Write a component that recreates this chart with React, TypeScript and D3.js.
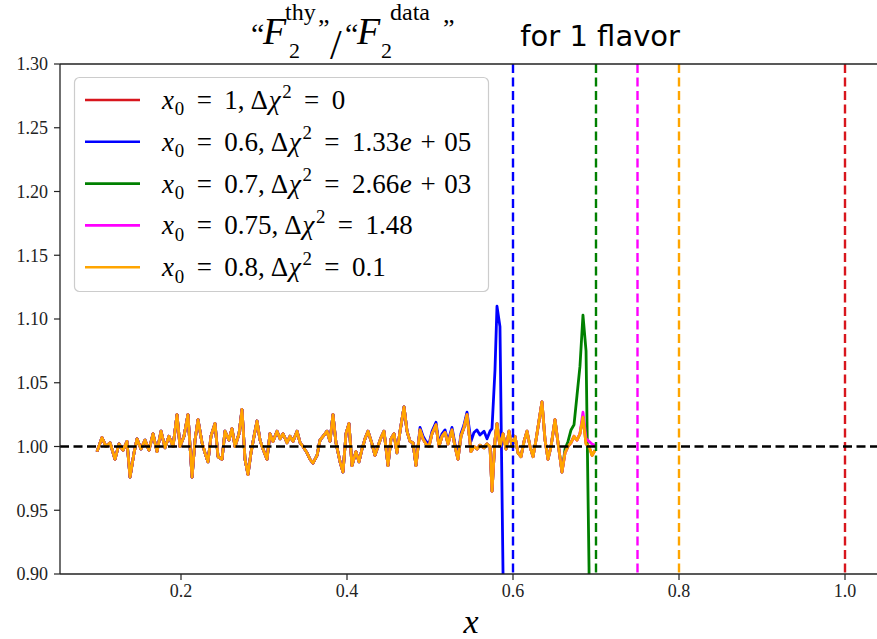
import React from "react";
import * as d3 from "d3";

const W = 877;
const H = 639;

// sampled x positions of the ratio curves
const xs = [
  0.0988, 0.1048, 0.1096, 0.1145, 0.1205, 0.1253, 0.1301, 0.1349, 0.1386, 0.1434,
  0.1470, 0.1518, 0.1566, 0.1614, 0.1663, 0.1711, 0.1759, 0.1807, 0.1855, 0.1904,
  0.1952, 0.1988, 0.2036, 0.2084, 0.2133, 0.2169, 0.2205, 0.2253, 0.2289, 0.2325,
  0.2361, 0.2410, 0.2446, 0.2494, 0.2530, 0.2578, 0.2614, 0.2651, 0.2699, 0.2735,
  0.2771, 0.2807, 0.2843, 0.2880, 0.2916, 0.2952, 0.2988, 0.3036, 0.3072, 0.3108,
  0.3157, 0.3193, 0.3229, 0.3277, 0.3313, 0.3349, 0.3398, 0.3434, 0.3470, 0.3518,
  0.3554, 0.3590, 0.3639, 0.3675, 0.3711, 0.3759, 0.3795, 0.3831, 0.3867, 0.3916,
  0.3952, 0.3988, 0.4024, 0.4060, 0.4108, 0.4145, 0.4181, 0.4217, 0.4253, 0.4301,
  0.4337, 0.4373, 0.4410, 0.4446, 0.4494, 0.4530, 0.4566, 0.4602, 0.4639, 0.4687,
  0.4723, 0.4759, 0.4795, 0.4831, 0.4880, 0.4916, 0.4952, 0.4988, 0.5024, 0.5072,
  0.5108, 0.5145, 0.5181, 0.5217, 0.5265, 0.5301, 0.5337, 0.5373, 0.5410, 0.5446,
  0.5494, 0.5530, 0.5566, 0.5602, 0.5651, 0.5687, 0.5723, 0.5747, 0.5783, 0.5807,
  0.5843, 0.5880, 0.5916, 0.5952, 0.5988, 0.6024, 0.6060, 0.6096, 0.6133, 0.6169,
  0.6205, 0.6241, 0.6277, 0.6313, 0.6349, 0.6386, 0.6422, 0.6458, 0.6506, 0.6542,
  0.6590, 0.6627, 0.6663, 0.6699, 0.6735, 0.6771, 0.6807, 0.6843, 0.6880, 0.6916,
  0.6952, 0.6988,
];

// common ratio values (x0 = 1 and x0 = 0.8 curves)
const baseY = [
  0.996, 1.007, 1.000, 1.003, 0.990, 1.002, 0.997, 1.004, 0.976, 0.995,
  1.006, 0.998, 1.005, 0.997, 1.010, 0.996, 1.012, 0.999, 1.008, 1.000,
  1.025, 1.000, 1.008, 1.025, 0.976, 1.005, 1.021, 1.003, 0.995, 0.988,
  1.008, 1.018, 0.992, 0.990, 1.012, 1.005, 1.014, 1.000, 1.010, 1.029,
  0.990, 0.978, 0.995, 1.008, 1.020, 1.005, 0.998, 0.990, 1.010, 1.004,
  1.012, 1.006, 1.010, 1.003, 1.008, 1.004, 1.012, 1.003, 1.000, 0.995,
  0.990, 0.987, 0.993, 1.005, 1.008, 1.012, 1.004, 1.025, 1.003, 0.988,
  0.980, 1.010, 1.018, 0.985, 0.996, 0.988, 0.998, 1.006, 1.012, 1.002,
  0.993, 1.000, 1.007, 1.012, 0.985, 1.006, 1.010, 0.995, 1.012, 1.031,
  1.012, 1.004, 1.003, 0.985, 1.013, 1.006, 1.002, 1.000, 1.010, 1.017,
  1.000, 1.008, 1.011, 1.002, 1.013, 1.000, 0.990, 1.008, 1.015, 1.025,
  0.996, 1.000, 0.998, 1.001, 0.999, 1.002, 1.000, 0.965, 1.005, 1.018,
  1.000, 1.010, 0.998, 1.012, 1.000, 1.008, 0.995, 0.992, 1.004, 1.012,
  1.000, 0.992, 1.005, 1.020, 1.035, 1.005, 0.990, 1.000, 1.021, 1.003,
  0.980, 0.995, 1.000, 1.003, 1.008, 1.005, 1.010, 1.023, 1.002, 1.000,
  0.993, 0.997,
];

// x0 = 0.6 curve, departing from the common values at x = 0.488
const blueFrom = 0.488;
const blueTail = [
  1.015, 1.008, 1.004, 1.002, 1.012, 1.019, 1.002, 1.010, 1.013, 1.004,
  1.015, 1.002, 0.992, 1.010, 1.017, 1.027, 1.004, 1.011, 1.013, 1.009,
  1.012, 1.006, 1.012, 1.014, 1.06, 1.110, 1.094, 0.90, 0.60,
];
// x0 = 0.7 curve
const greenFrom = 0.6627;
const greenTail = [0.998, 1.004, 1.013, 1.017, 1.040, 1.063, 1.103, 1.075, 0.905, 0.50];
// x0 = 0.75 curve
const magentaFrom = 0.6843;
const magentaTail = [1.027, 1.006, 1.004, 1.002, 1.001];

const x0s = [1, 0.6, 0.7, 0.75, 0.8];
const x0Labels = ["1", "0.6", "0.7", "0.75", "0.8"];
const chiLabels = ["0", "1.33e+05", "2.66e+03", "1.48", "0.1"];
const colors = ["#d8161d", "#0000ff", "#008000", "#ff00ff", "#ffa500"];

const xTicks = [0.2, 0.4, 0.6, 0.8, 1.0];
const yTicks = [0.9, 0.95, 1.0, 1.05, 1.1, 1.15, 1.2, 1.25, 1.3];

const L = 60, R = 882, T = 64, B = 574;
const xScale = d3.scaleLinear().domain([0.055, 1.045]).range([L + 0.65, R + 0.35]);
const yScale = d3.scaleLinear().domain([0.9, 1.3]).range([B, T]);

function withTail(from: number, tail: number[]): [number, number][] {
  const start = xs.findIndex((x) => x >= from - 1e-9);
  const pts: [number, number][] = [];
  for (let i = 0; i < start; i++) pts.push([xs[i], baseY[i]]);
  for (let j = 0; j < tail.length && start + j < xs.length; j++) pts.push([xs[start + j], tail[j]]);
  return pts;
}

const basePts: [number, number][] = xs.map((x, i) => [x, baseY[i]]);
const seriesPts: [number, number][][] = [
  basePts,
  withTail(blueFrom, blueTail),
  withTail(greenFrom, greenTail),
  withTail(magentaFrom, magentaTail),
  basePts,
];

const SERIF = '"Liberation Serif", "Times New Roman", "DejaVu Serif", serif';
const SANS = '"DejaVu Sans", "Noto Sans", sans-serif';

type Tok = { t: string; it?: boolean; pos?: "sub" | "sup"; sp?: number };

const EQ = 0.46;
const PL = 0.32;

function valueToks(v: string): Tok[] {
  const m = v.match(/^([0-9.]+)e\+([0-9]+)$/);
  if (m) {
    return [
      { t: m[1], sp: EQ },
      { t: "e", it: true, sp: 0.02 },
      { t: "+", sp: PL },
      { t: m[2], sp: PL },
    ];
  }
  return [{ t: v, sp: EQ }];
}

function rowToks(i: number): Tok[] {
  return [
    { t: "x", it: true },
    { t: "0", pos: "sub", sp: 0.03 },
    { t: "=", sp: EQ },
    { t: x0Labels[i], sp: EQ },
    { t: "," },
    { t: "Δ", sp: 0.22 },
    { t: "χ", it: true, sp: 0.03 },
    { t: "2", pos: "sup", sp: 0.06 },
    { t: "=", sp: EQ },
    ...valueToks(chiLabels[i]),
  ];
}

function MathText({ x, y, size, toks }: { x: number; y: number; size: number; toks: Tok[] }) {
  let cur = 0;
  return (
    <text x={x} y={y} style={{ fontFamily: SERIF, fontSize: size }} fill="#000">
      {toks.map((tk, k) => {
        const shift = tk.pos === "sub" ? 0.24 * size : tk.pos === "sup" ? -0.42 * size : 0;
        const dy = shift - cur;
        cur = shift;
        return (
          <tspan
            key={k}
            dx={(tk.sp || 0) * size}
            dy={dy}
            style={{ fontSize: tk.pos ? size * 0.7 : size, fontStyle: tk.it ? "italic" : "normal" }}
          >
            {tk.t}
          </tspan>
        );
      })}
    </text>
  );
}

function T_({ x, y, size, italic, children, anchor }: any) {
  return (
    <text
      x={x}
      y={y}
      textAnchor={anchor || "start"}
      style={{ fontFamily: SERIF, fontSize: size, fontStyle: italic ? "italic" : "normal" }}
      fill="#000"
    >
      {children}
    </text>
  );
}

export default function App() {
  const line = d3
    .line<[number, number]>()
    .x((d) => xScale(d[0]))
    .y((d) => yScale(d[1]));
  const rowY = (i: number) => 100 + i * 41.8;

  return (
    <div style={{ position: "absolute", left: 0, top: 0, width: W, height: H, background: "#fff" }}>
      <svg width={W} height={H} style={{ display: "block" }}>
        <defs>
          <clipPath id="plotclip">
            <rect x={L} y={T} width={R - L} height={B - T} />
          </clipPath>
        </defs>
        <rect x={0} y={0} width={W} height={H} fill="#fff" />

        {/* curves */}
        <g clipPath="url(#plotclip)">
          {seriesPts.map((pts, i) => (
            <path key={i} d={line(pts) || ""} fill="none" stroke={colors[i]} strokeWidth={2.8} strokeLinejoin="round" />
          ))}
          {x0s.map((x0, i) => (
            <line
              key={"v" + i}
              x1={xScale(x0)}
              x2={xScale(x0)}
              y1={T}
              y2={B}
              stroke={colors[i]}
              strokeWidth={2.4}
              strokeDasharray="9,4.5"
            />
          ))}
          <line x1={L} x2={R} y1={yScale(1)} y2={yScale(1)} stroke="#000" strokeWidth={2.6} strokeDasharray="9,4.5" />
        </g>

        {/* spines */}
        <line x1={L} x2={L} y1={T} y2={B} stroke="#222" strokeWidth={1.3} />
        <line x1={L} x2={R} y1={T} y2={T} stroke="#222" strokeWidth={1.3} />
        <line x1={L} x2={R} y1={B} y2={B} stroke="#222" strokeWidth={1.3} />

        {/* y ticks */}
        {yTicks.map((v) => (
          <g key={"y" + v}>
            <line x1={L - 6} x2={L} y1={yScale(v)} y2={yScale(v)} stroke="#222" strokeWidth={1.2} />
            <text x={L - 12} y={yScale(v)} dy="0.35em" textAnchor="end" style={{ fontFamily: SERIF, fontSize: 18 }} fill="#222">
              {v.toFixed(2)}
            </text>
          </g>
        ))}
        {/* x ticks */}
        {xTicks.map((v) => (
          <g key={"x" + v}>
            <line x1={xScale(v)} x2={xScale(v)} y1={B} y2={B + 6} stroke="#222" strokeWidth={1.2} />
            <text x={xScale(v)} y={B + 23} textAnchor="middle" style={{ fontFamily: SERIF, fontSize: 18 }} fill="#222">
              {v.toFixed(1)}
            </text>
          </g>
        ))}
        <T_ x={(L + R) / 2} y={633} size={34} italic anchor="middle">x</T_>

        {/* title */}
        <T_ x={251} y={44} size={30}>“</T_>
        <T_ x={263} y={44} size={38} italic>F</T_>
        <T_ x={285} y={20} size={24}>thy</T_>
        <T_ x={289} y={58} size={22}>2</T_>
        <T_ x={318} y={37} size={26}>”</T_>
        <T_ x={330} y={59} size={42}>/</T_>
        <T_ x={345} y={44} size={30}>“</T_>
        <T_ x={357} y={44} size={38} italic>F</T_>
        <T_ x={390} y={20} size={24}>data</T_>
        <T_ x={381} y={58} size={22}>2</T_>
        <T_ x={443} y={37} size={26}>”</T_>
        <text x={680} y={46} textAnchor="end" style={{ fontFamily: SANS, fontSize: 29 }} fill="#000">
          for 1 flavor
        </text>

        {/* legend */}
        <rect x={74.5} y={77.5} width={414} height={214} rx={5} fill="#fff" fillOpacity={0.8} stroke="#cccccc" strokeWidth={1.2} />
        {x0s.map((_, i) => (
          <g key={"lg" + i}>
            <line x1={85} x2={140} y1={rowY(i)} y2={rowY(i)} stroke={colors[i]} strokeWidth={2.6} />
            <MathText x={162} y={rowY(i) + 9} size={27} toks={rowToks(i)} />
          </g>
        ))}
      </svg>
    </div>
  );
}
